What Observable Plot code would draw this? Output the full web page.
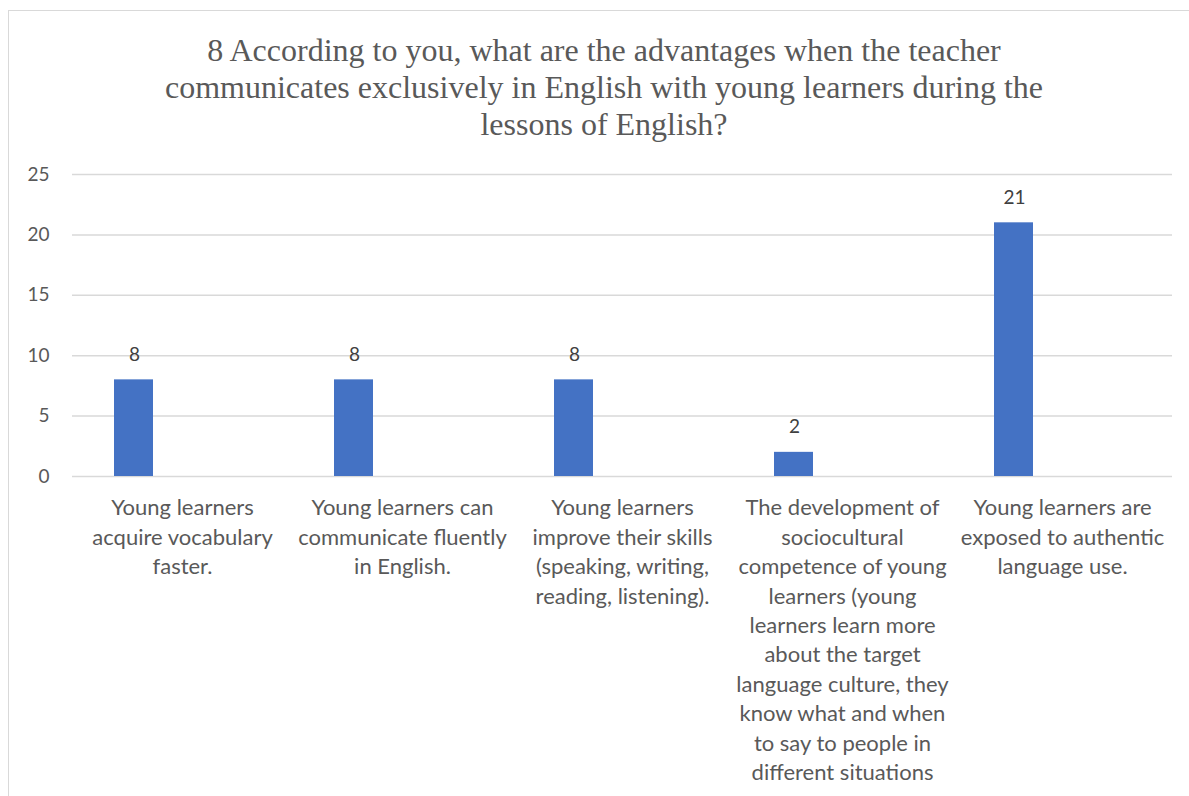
<!DOCTYPE html>
<html>
<head>
<meta charset="utf-8">
<script src="https://cdn.jsdelivr.net/npm/d3@7"></script>
<script src="https://cdn.jsdelivr.net/npm/@observablehq/plot@0.6"></script>
<style>
  html, body { margin: 0; padding: 0; background: #fff; width: 1189px; height: 796px; overflow: hidden; }
  #frame { position: absolute; left: 8px; top: 10px; width: 1300px; height: 900px; border: 1.5px solid #d9d9d9; box-sizing: border-box; }
  #title { position: absolute; left: 0; top: 32px; width: 1208px; text-align: center; font-family: "Liberation Serif", "Times New Roman", serif; font-size: 32px; line-height: 37px; color: #595959; white-space: pre-line; }
  #chart { position: absolute; left: 0; top: 150px; }
</style>
</head>
<body>
<div id="frame"></div>
<div id="title"></div>
<div id="chart"></div>
<script>
const titleText = "8 According to you, what are the advantages when the teacher\ncommunicates exclusively in English with young learners during the\nlessons of English?";
const categories = [
  "Young learners\nacquire vocabulary\nfaster.",
  "Young learners can\ncommunicate fluently\nin English.",
  "Young learners\nimprove their skills\n(speaking, writing,\nreading, listening).",
  "The development of\nsociocultural\ncompetence of young\nlearners (young\nlearners learn more\nabout the target\nlanguage culture, they\nknow what and when\nto say to people in\ndifferent situations",
  "Young learners are\nexposed to authentic\nlanguage use."
];
const values = [8, 8, 8, 2, 21];
const yTicks = [0, 5, 10, 15, 20, 25];

document.getElementById("title").textContent = titleText;

const data = categories.map((c, i) => ({category: c, value: values[i]}));
const font = "Lato, 'Open Sans', sans-serif";

const chart = Plot.plot({
  width: 1189,
  height: 646,
  marginTop: 24,
  marginBottom: 320,
  marginLeft: 72,
  marginRight: 17,
  style: {fontFamily: font, background: "transparent"},
  x: {domain: categories, padding: 0, align: 0.5},
  y: {domain: [0, 25], ticks: yTicks},
  marks: [
    Plot.gridY(yTicks, {stroke: "#d9d9d9", strokeOpacity: 1, strokeWidth: 1.5}),
    Plot.barY(data, {x: "category", y: "value", fill: "#4472C4", insetLeft: 42, insetRight: 139}),
    Plot.text(data, {x: "category", y: "value", text: d => String(d.value), dx: -48, dy: -25, fontSize: 19, fill: "#404040"}),
    Plot.axisY(yTicks, {tickSize: 0, tickPadding: 23, fontSize: 19, color: "#595959", label: null}),
    Plot.axisX({tickSize: 0, tickPadding: 18, fontSize: 22, lineHeight: 1.336, color: "#595959", label: null})
  ]
});
document.getElementById("chart").appendChild(chart);
</script>
</body>
</html>
